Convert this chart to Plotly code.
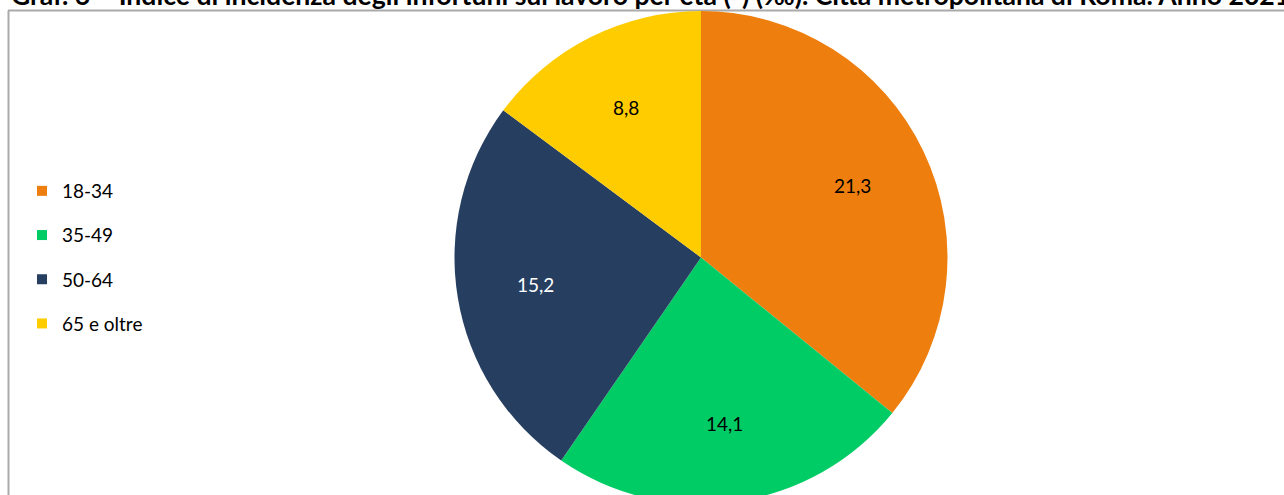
import math
import plotly.graph_objects as go

# ---- data ----
categories = ["18-34", "35-49", "50-64", "65 e oltre"]
values = [21.3, 14.1, 15.2, 8.8]
colors = ["#EE7F0F", "#00CC66", "#263F60", "#FFCC00"]
label_colors = ["#000000", "#000000", "#FFFFFF", "#000000"]
title_text = ("Graf. 6 – Indice di incidenza degli infortuni sul lavoro per età (*) (‰). "
              "Città metropolitana di Roma. Anno 2021")

W, H = 1284, 504
TOP = 11
FONT = "Lato"
plot_h = H - TOP

fig = go.Figure()

cx = 701
half = 262
fig.add_trace(go.Pie(
    labels=categories,
    values=values,
    sort=False,
    direction="clockwise",
    rotation=0,
    marker=dict(colors=colors, line=dict(width=0)),
    textinfo="none",
    hoverinfo="label+value",
    showlegend=False,
    domain=dict(x=[(cx - half) / W, (cx + half) / W], y=[0, 1]),
))

# data labels placed along each slice's mid angle (derived from values)
R = plot_h / 2
cy = TOP + plot_h / 2
total = sum(values)
cum = 0.0
label_r = 0.68
for v, col in zip(values, label_colors):
    mid = (cum + v / 2) / total * 2 * math.pi
    cum += v
    px = cx + label_r * R * math.sin(mid)
    py = cy - label_r * R * math.cos(mid)
    fig.add_annotation(
        text=f"{v:.1f}".replace(".", ","),
        xref="paper", yref="paper", x=px / W, y=(H - py) / plot_h,
        xanchor="center", yanchor="middle", showarrow=False,
        font=dict(family=FONT, size=19, color=col),
    )

# legend entries (square markers) in the slice colours
for cat, col in zip(categories, colors):
    fig.add_trace(go.Scatter(
        x=[None], y=[None], mode="markers", name=cat, legendgroup=cat,
        marker=dict(symbol="square", size=10, color=col),
        showlegend=True, hoverinfo="skip",
    ))

def ypx(py):
    return (H - py) / plot_h

# chart border (left and top)
fig.add_shape(type="line", xref="paper", yref="paper",
              x0=8.5 / W, x1=8.5 / W, y0=ypx(10.5), y1=ypx(H + 5),
              line=dict(color="#AAAAAA", width=2), layer="below")
fig.add_shape(type="line", xref="paper", yref="paper",
              x0=8 / W, x1=1.01, y0=ypx(10.5), y1=ypx(10.5),
              line=dict(color="#AAAAAA", width=2), layer="below")

fig.add_annotation(
    text="<b>" + title_text + "</b>",
    xref="paper", yref="paper", x=9 / W, y=ypx(-5), xanchor="left", yanchor="middle",
    showarrow=False, font=dict(family=FONT, size=26.6, color="#000000"),
)

fig.update_layout(
    width=W, height=H,
    margin=dict(l=0, r=0, t=TOP, b=0, pad=0),
    paper_bgcolor="white", plot_bgcolor="white",
    xaxis=dict(visible=False), yaxis=dict(visible=False),
    legend=dict(
        xref="paper", yref="paper",
        x=22 / W, y=ypx(172), xanchor="left", yanchor="top",
        traceorder="grouped", tracegroupgap=16.5,
        font=dict(family=FONT, size=19, color="#000000"),
        bgcolor="rgba(0,0,0,0)",
    ),
    font=dict(family=FONT),
)

fig.write_html("out.html", config={"displayModeBar": False},
               post_script="document.body.style.margin='0';document.body.style.overflow='hidden';")
